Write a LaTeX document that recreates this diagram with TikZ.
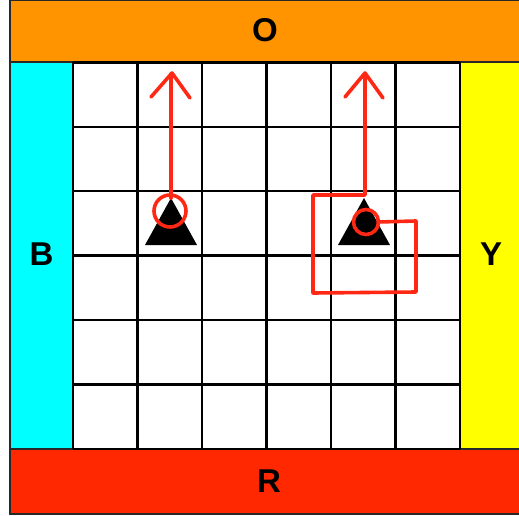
\documentclass[tikz,border=0pt]{standalone}
\usepackage{fontspec}
\setmainfont{Liberation Sans}
\begin{document}
\begin{tikzpicture}[x=1pt,y=-1pt,
  bar/.style={draw={rgb,255:red,40;green,40;blue,40},line width=2pt},
  gridline/.style={draw=black,line width=2.2pt},
  lbl/.style={font=\fontsize{33}{33}\selectfont\bfseries,text=black,inner sep=0pt},
  sketch/.style={draw={rgb,255:red,255;green,40;blue,20},line width=3.6pt,line cap=round,line join=round},
  tri/.style={fill=black}]
\useasboundingbox (0,0) rectangle (519,516);
\definecolor{orng}{RGB}{255,148,0}
\definecolor{cyn}{RGB}{0,255,255}
\definecolor{yel}{RGB}{255,255,0}
\definecolor{rd}{RGB}{255,40,0}
% bars
\filldraw[bar,fill=orng] (9.5,0.5) rectangle (521,62.5);
\filldraw[bar,fill=cyn] (9.5,62.5) rectangle (73,449);
\filldraw[bar,fill=yel] (460,62.5) rectangle (521,449);
\filldraw[bar,fill=rd] (9.5,449) rectangle (521,514);
% grid
\foreach \x in {73,137.5,202,266.5,331,395.5,460} \draw[gridline] (\x,62.5) -- (\x,449);
\foreach \y in {62.5,127,191,255.5,320,384.5,449} \draw[gridline] (73,\y) -- (460,\y);
% labels
\node[lbl] (O) at (265,30) {O};
\node[lbl] (B) at (41.5,254) {B};
\node[lbl] (Y) at (491,254) {Y};
\node[lbl] (R) at (269,481) {R};
% triangles
\fill[tri] (171,198) -- (197,245) -- (145,245) -- cycle;
\fill[tri] (364,198) -- (390,245) -- (338,245) -- cycle;
% left marks
\draw[sketch] (170,211) circle (16);
\draw[sketch] (171,198) -- (171,74);
\draw[sketch] (151,97) -- (172,73) -- (190,98);
% right marks
\draw[sketch] (366,222) circle (12.5);
\draw[sketch] (378,222) -- (416,221) -- (416,292) -- (313,293) -- (313,195) -- (365,195) -- (365,74);
\draw[sketch] (345,97) -- (365,73) -- (383,98);
\end{tikzpicture}
\end{document}
